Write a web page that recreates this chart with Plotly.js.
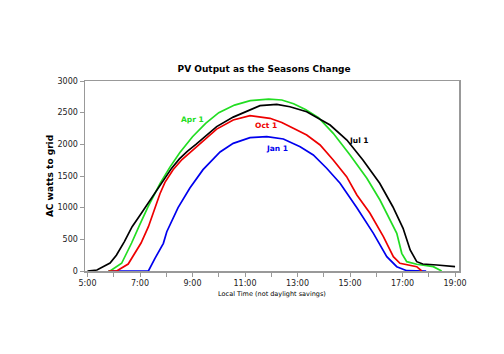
<!DOCTYPE html>
<html>
<head>
<meta charset="utf-8">
<script src="https://cdn.plot.ly/plotly-3.0.1.min.js"></script>
<style>html,body{margin:0;padding:0;background:#fff;}#chart{width:504px;height:354px;}</style>
</head>
<body>
<div id="chart"></div>
<script>
// Time in hours (local, not daylight savings), output in AC watts to grid
const janTime = [5.8, 7.32, 7.57, 7.89, 8.02, 8.45, 8.90, 9.40, 10.05, 10.55, 11.19, 11.83, 12.46, 13.10, 13.60, 14.11, 14.62, 15.06, 15.26, 15.89, 16.40, 16.78, 17.16, 17.9];
const janWatts = [0, 0, 200, 437, 620, 1000, 1310, 1600, 1879, 2016, 2105, 2121, 2084, 1963, 1832, 1622, 1385, 1121, 1000, 595, 226, 68, 5, 0];

const aprTime = [5.8, 5.86, 6.30, 6.68, 7.0, 7.30, 7.76, 8.14, 8.52, 9.0, 9.5, 10.0, 10.6, 11.2, 11.9, 12.4, 12.85, 13.3, 13.8, 14.36, 15.0, 15.64, 16.14, 16.4, 16.78, 16.97, 17.16, 17.54, 18.17, 18.49];
const aprWatts = [0, 0, 122, 442, 740, 1010, 1380, 1640, 1870, 2120, 2330, 2500, 2620, 2690, 2715, 2700, 2640, 2550, 2420, 2174, 1832, 1464, 1121, 911, 595, 279, 147, 106, 68, 0];

const julTime = [5.0, 5.36, 5.86, 6.1, 6.4, 6.7, 7.0, 7.3, 7.6, 7.9, 8.2, 8.5, 8.8, 9.13, 9.5, 9.92, 10.55, 11.19, 11.57, 12.21, 12.71, 13.35, 13.86, 14.24, 14.88, 15.49, 16.13, 16.63, 17.02, 17.29, 17.54, 17.77, 18.31, 19.0];
const julWatts = [0, 16, 126, 250, 460, 700, 880, 1070, 1260, 1440, 1620, 1770, 1890, 2000, 2130, 2280, 2430, 2542, 2610, 2632, 2594, 2515, 2400, 2305, 2068, 1753, 1385, 1015, 674, 332, 147, 110, 95, 68];

const octTime = [5.8, 6.11, 6.55, 7.04, 7.32, 7.57, 7.76, 7.95, 8.26, 8.6, 8.90, 9.29, 9.54, 9.92, 10.55, 11.19, 11.95, 12.4, 12.84, 13.35, 13.86, 14.36, 14.87, 15.26, 15.76, 16.27, 16.65, 16.90, 17.54, 17.73];
const octWatts = [0, 0, 110, 442, 700, 1003, 1220, 1400, 1600, 1760, 1870, 2020, 2110, 2240, 2384, 2452, 2411, 2345, 2253, 2147, 1990, 1753, 1489, 1200, 911, 542, 226, 122, 68, 0];

const tickHours = [5, 6, 7, 8, 9, 10, 11, 12, 13, 14, 15, 16, 17, 18, 19];
const tickLabels = ['5:00', '', '7:00', '', '9:00', '', '11:00', '', '13:00', '', '15:00', '', '17:00', '', '19:00'];
const yTicks = [0, 500, 1000, 1500, 2000, 2500, 3000];

const seriesNames = ['Jan 1', 'Apr 1', 'Jul 1', 'Oct 1'];
const seriesColors = ['#0000ee', '#22dd22', '#000000', '#ee0000'];
const labelPos = [[12.2, 1942], [9.0, 2400], [15.34, 2053], [11.78, 2290]];

const times = [janTime, aprTime, julTime, octTime];
const watts = [janWatts, aprWatts, julWatts, octWatts];

const font = 'DejaVu Sans, Verdana, sans-serif';

const traces = seriesNames.map((n, i) => ({
  x: times[i], y: watts[i], name: n, type: 'scatter', mode: 'lines',
  line: {color: seriesColors[i], width: 1.7}, hoverinfo: 'none'
}));

const annotations = seriesNames.map((n, i) => ({
  x: labelPos[i][0], y: labelPos[i][1], xref: 'x', yref: 'y', text: '<b>' + n + '</b>',
  showarrow: false, font: {family: font, size: 7.5, color: seriesColors[i]},
  xanchor: 'center', yanchor: 'middle'
}));

const layout = {
  width: 504, height: 354,
  margin: {l: 85, r: 45, t: 81, b: 83},
  paper_bgcolor: '#fff', plot_bgcolor: '#fff',
  showlegend: false,
  title: {text: '<b>PV Output as the Seasons Change</b>', font: {family: font, size: 9, color: '#000'},
          x: 0.524, xref: 'container', y: 1 - 69.3 / 354, yref: 'container', yanchor: 'middle', xanchor: 'center'},
  xaxis: {
    range: [4.905, 19.15], tickvals: tickHours, ticktext: tickLabels,
    showgrid: false, zeroline: false, showline: true, mirror: true,
    linecolor: '#999', linewidth: 1.5, ticks: 'outside', ticklen: 4, tickcolor: '#999', tickwidth: 1,
    tickfont: {family: font, size: 8, color: '#222'},
    title: {text: 'Local Time (not daylight savings)', font: {family: font, size: 6.5, color: '#000'}, standoff: 4}
  },
  yaxis: {
    range: [0, 3000], tickvals: yTicks,
    showgrid: false, zeroline: false, showline: true, mirror: true,
    linecolor: '#999', linewidth: 1.5, ticks: 'outside', ticklen: 4, tickcolor: '#999', tickwidth: 1,
    tickfont: {family: font, size: 8, color: '#222'},
    title: {text: '<b>AC watts to grid</b>', font: {family: font, size: 9, color: '#000'}, standoff: 2}
  },
  annotations: annotations
};

Plotly.newPlot('chart', traces, layout, {staticPlot: true, displayModeBar: false});
</script>
</body>
</html>
